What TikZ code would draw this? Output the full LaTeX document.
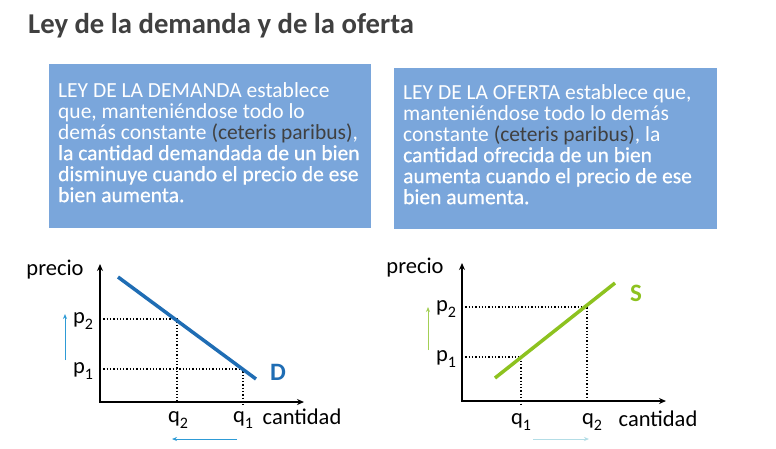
\documentclass[tikz,border=0pt]{standalone}
\usepackage{fontspec}
\setmainfont{Carlito}
\newfontfamily\semibold{Carlito}[FakeBold=0.6]
\usetikzlibrary{arrows.meta}
\definecolor{boxblue}{HTML}{7AA6DB}
\definecolor{titlegray}{HTML}{404040}
\definecolor{dblue}{HTML}{1F6DB4}
\definecolor{sgreen}{HTML}{8DC21F}
\definecolor{arrblue}{HTML}{2E9BD6}
\definecolor{arrgreen}{HTML}{A3CF55}
\definecolor{arrlight}{HTML}{B3DDE6}
\tikzset{
  lawbox/.style={fill=boxblue, draw=none},
  lawtext/.style={anchor=north west, align=left, text=white, font=\fontsize{21.5}{21}\selectfont, inner sep=0pt},
  axis/.style={line width=1.6pt, -{Stealth[length=7pt,width=6pt]}},
  guide/.style={line width=1.3pt, dotted},
  lbl/.style={font=\fontsize{22.5}{24}\selectfont, inner sep=0pt},
  curve/.style={line width=3.5pt},
}
\newcommand{\dk}[1]{\textcolor{titlegray}{#1}}
\newcommand{\sbs}[1]{\raisebox{-0.25em}{\fontsize{16}{16}\selectfont #1}}
\begin{document}
\begin{tikzpicture}[x=1pt,y=-1pt]
\useasboundingbox (0,0) rectangle (776,448);
\fill[white] (0,0) rectangle (776,448);
% title
\node[anchor=base west, inner sep=0pt, text=titlegray, font=\fontsize{28.7}{30}\selectfont\bfseries] (title) at (28,33) {Ley de la demanda y de la oferta};
% boxes
\fill[lawbox] (49,64) rectangle (371,228);
\fill[lawbox] (394,68) rectangle (717,229);
\node[lawtext] (t1) at (58,82) {LEY DE LA DEMANDA establece\\que, manteniéndose todo lo\\demás constante \dk{(ceteris paribus)},\\{\semibold la cantidad demandada de un bien}\\{\semibold disminuye cuando el precio de ese}\\{\semibold bien aumenta.}};
\node[lawtext] (t2) at (403,84) {LEY DE LA OFERTA establece que,\\manteniéndose todo lo demás\\constante \dk{(ceteris paribus)}, la\\{\semibold cantidad ofrecida de un bien}\\{\semibold aumenta cuando el precio de ese}\\{\semibold bien aumenta.}};
% ---------- demand graph ----------
\coordinate (o1) at (100,402);
\coordinate (y1) at (100,264);
\coordinate (x1) at (304,402);
\draw[axis] (o1) -- (y1);
\draw[axis] ([xshift=-0.8pt]o1) -- (x1);
\coordinate (a2) at (177,319);
\coordinate (a1) at (243,369);
\draw[guide] (100,319) -- (a2) -- (177,402);
\draw[guide] (100,369) -- (a1) -- (243,405);
\draw[curve, dblue] (118,277) coordinate (d0) -- (256,379) coordinate (d1);
\node[lbl] (prec1) at (55,270) {precio};
\node[lbl] (p2a) at (83,321) {p\sbs{2}};
\node[lbl] (p1a) at (83,371) {p\sbs{1}};
\node[lbl] (q2a) at (178,420) {q\sbs{2}};
\node[lbl] (q1a) at (243,420) {q\sbs{1}};
\node[lbl] (cant1) at (302,417) {cantidad};
\node[lbl, text=dblue, font=\fontsize{25}{26}\selectfont\bfseries] (dl) at (278,372) {D};
\coordinate (ua0) at (65,360); \coordinate (ua1) at (65,314);
\draw[arrblue, line width=0.9pt, -{Stealth[length=5pt,width=4pt]}] (ua0) -- (ua1);
\coordinate (la0) at (237,439); \coordinate (la1) at (172,439);
\draw[arrblue, line width=0.9pt, -{Stealth[length=5pt,width=4pt]}] (la0) -- (la1);
% ---------- supply graph ----------
\coordinate (o2) at (462,401);
\coordinate (y2) at (462,263);
\coordinate (x2) at (666,401);
\draw[axis] (o2) -- (y2);
\draw[axis] ([xshift=-0.8pt]o2) -- (x2);
\coordinate (b2) at (587,307);
\coordinate (b1) at (521,357);
\draw[guide] (462,307) -- (b2) -- (587,397);
\draw[guide] (462,357) -- (b1) -- (521,404);
\draw[curve, sgreen] (495,378) coordinate (s0) -- (615,283) coordinate (s1);
\node[lbl] (prec2) at (415,268) {precio};
\node[lbl] (p2b) at (446,309) {p\sbs{2}};
\node[lbl] (p1b) at (446,359) {p\sbs{1}};
\node[lbl] (q1b) at (521,422) {q\sbs{1}};
\node[lbl] (q2b) at (592,422) {q\sbs{2}};
\node[lbl] (cant2) at (658,419) {cantidad};
\node[lbl, text=sgreen, font=\fontsize{25}{26}\selectfont\bfseries] (sl) at (636,293) {S};
\coordinate (ub0) at (428,350); \coordinate (ub1) at (428,307);
\draw[arrgreen, line width=0.9pt, -{Stealth[length=5pt,width=4pt]}] (ub0) -- (ub1);
\coordinate (rb0) at (533,439); \coordinate (rb1) at (589,439);
\draw[arrlight, line width=0.9pt, -{Stealth[length=5pt,width=4pt]}] (rb0) -- (rb1);
\end{tikzpicture}
\end{document}
